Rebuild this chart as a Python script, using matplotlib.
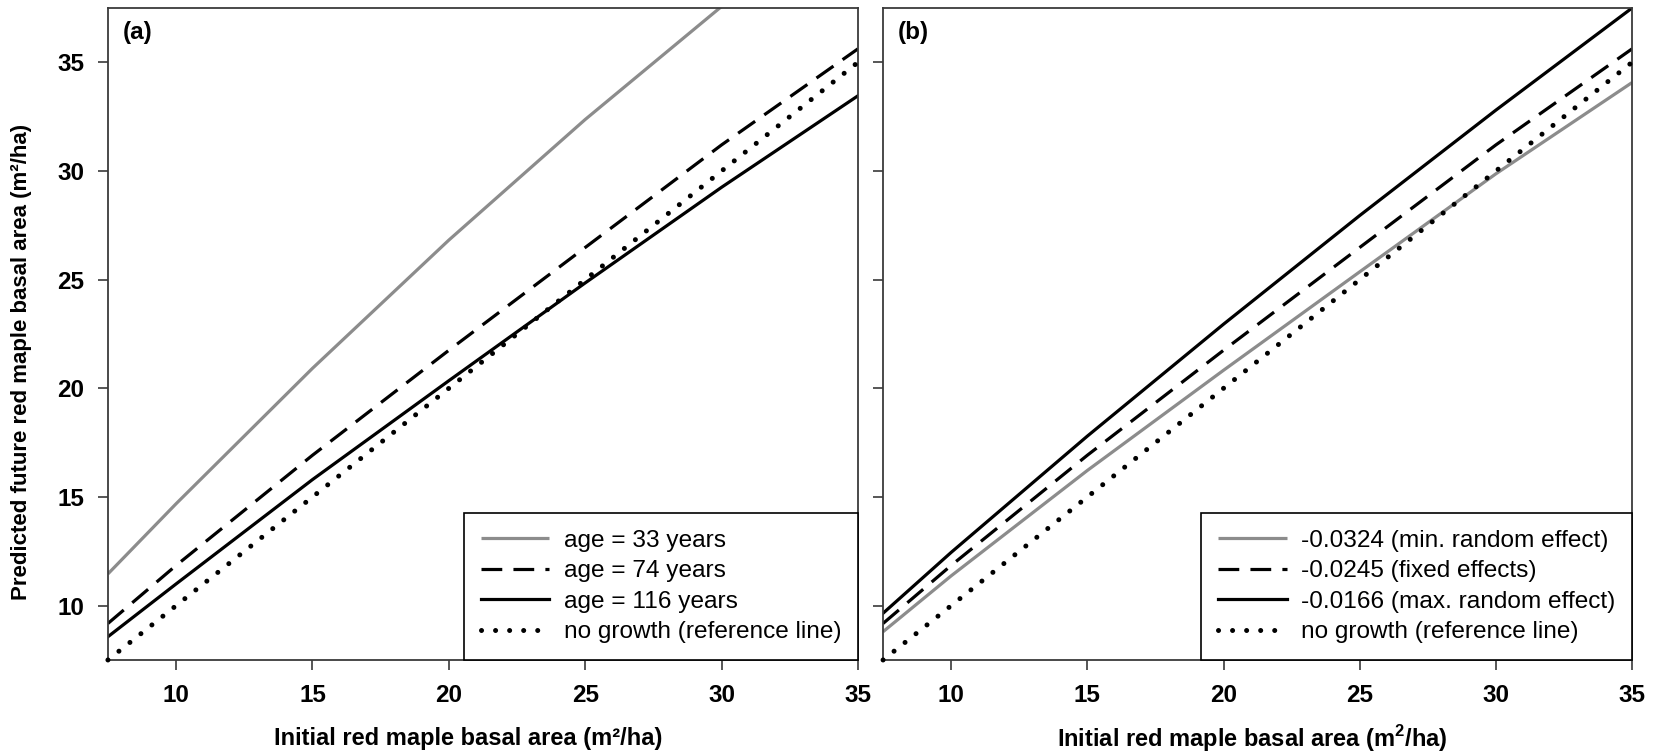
import matplotlib
matplotlib.use("Agg")
import matplotlib.pyplot as plt

plt.rcParams['font.family'] = ['Liberation Sans', 'DejaVu Sans']
plt.rcParams['mathtext.fontset'] = 'custom'
plt.rcParams['mathtext.rm'] = 'Liberation Sans'
plt.rcParams['mathtext.bf'] = 'Liberation Sans:bold'

# Initial basal area (m2/ha) at which the predictions are drawn
initial_ba = [7.5, 10, 15, 20, 25, 30, 35]

# Panel (a): predicted future basal area by stand age
age33 = [11.46, 14.69, 20.92, 26.82, 32.37, 37.57, 42.42]
age74 = [9.18, 11.85, 16.92, 21.75, 26.48, 31.2, 35.62]
age116 = [8.57, 11.0, 15.8, 20.35, 24.85, 29.25, 33.46]

# Panel (b): predicted future basal area by plot random effect
re_min = [8.80, 11.37, 16.22, 20.83, 25.36, 29.87, 34.07]
re_fixed = [9.18, 11.85, 16.92, 21.75, 26.48, 31.2, 35.62]
re_max = [9.65, 12.45, 17.8, 22.95, 27.95, 32.8, 37.5]

labels_a = ['age = 33 years', 'age = 74 years', 'age = 116 years',
            'no growth (reference line)']
labels_b = ['-0.0324 (min. random effect)', '-0.0245 (fixed effects)',
            '-0.0166 (max. random effect)', 'no growth (reference line)']

x_ticks = [10, 15, 20, 25, 30, 35]
y_ticks = [10, 15, 20, 25, 30, 35]

GRAY = '#8c8c8c'
SPINE = '#3a3a3a'
FS_TICK = 17.5
FS_LABEL = 17
FS_LEG = 17.6

fig = plt.figure(figsize=(16.63, 7.54), dpi=100)
ax_a = fig.add_axes([0.0649, 0.1247, 0.4510, 0.8647])
ax_b = fig.add_axes([0.5310, 0.1247, 0.4504, 0.8647])


def draw_panel(ax, ys, labels, tag, show_ylabels):
    gray_y, dash_y, solid_y = ys
    ax.plot(initial_ba, gray_y, color=GRAY, lw=2.3, solid_capstyle='butt',
            label=labels[0])
    ax.plot(initial_ba, dash_y, color='black', lw=2.3, dashes=(6.5, 3.5),
            label=labels[1])
    ax.plot(initial_ba, solid_y, color='black', lw=2.3, label=labels[2])
    ax.plot(initial_ba, initial_ba, color='black', lw=3.6,
            linestyle=(0, (0.01, 2.8)), dash_capstyle='round',
            clip_on=False, zorder=3, label=labels[3])

    ax.set_xlim(7.5, 35)
    ax.set_ylim(7.5, 37.5)
    ax.set_xticks(x_ticks)
    ax.set_yticks(y_ticks)
    ax.tick_params(direction='out', length=7, width=1.2, color=SPINE,
                   labelsize=FS_TICK, pad=10)
    for lab in ax.get_xticklabels() + ax.get_yticklabels():
        lab.set_fontweight('bold')
    if not show_ylabels:
        ax.tick_params(labelleft=False)
    for sp in ax.spines.values():
        sp.set_color(SPINE)
        sp.set_linewidth(1.3)

    ax.text(0.02, 0.962, tag, transform=ax.transAxes, fontsize=FS_TICK,
            fontweight='bold', ha='left', va='center')

    leg = ax.legend(loc='lower right', bbox_to_anchor=(1.0, 0.0),
                    borderaxespad=0.0, fontsize=FS_LEG, frameon=True,
                    fancybox=False, edgecolor='black', framealpha=1,
                    handlelength=2.8, handletextpad=0.6, labelspacing=0.345,
                    borderpad=0.68)
    leg.get_frame().set_linewidth(1.2)
    leg.set_zorder(5)


draw_panel(ax_a, (age33, age74, age116), labels_a, '(a)', True)
draw_panel(ax_b, (re_min, re_fixed, re_max), labels_b, '(b)', False)

ax_a.set_xlabel('Initial red maple basal area (m\u00b2/ha)', fontsize=FS_LABEL,
                fontweight='bold')
ax_b.set_xlabel(r'Initial red maple basal area (m$^{\mathbf{2}}$/ha)',
                fontsize=FS_LABEL, fontweight='bold')
ax_a.xaxis.set_label_coords(0.481, -0.12)
ax_b.xaxis.set_label_coords(0.493, -0.12)
ax_a.xaxis.label.set_va('center')
ax_b.xaxis.label.set_va('center')

ax_a.set_ylabel('Predicted future red maple basal area (m\u00b2/ha)',
                fontsize=16, fontweight='bold')
ax_a.yaxis.set_label_coords(-0.101, 0.457)

fig.savefig('out.png', dpi=100, facecolor='white')
